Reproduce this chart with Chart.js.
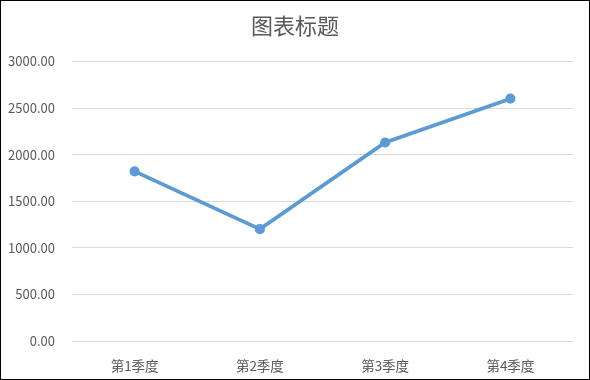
<!DOCTYPE html>
<html>
<head>
<meta charset="utf-8">
<script src="https://cdn.jsdelivr.net/npm/chart.js@4/dist/chart.umd.min.js"></script>
<style>
  body { margin: 0; background: #fff; }
  .wrap { width: 590px; height: 380px; box-sizing: border-box; border: 1px solid #000; background: #fff; }
</style>
</head>
<body>
<div class="wrap"><canvas id="chart" width="588" height="378"></canvas></div>
<script>
const categories = ["第1季度", "第2季度", "第3季度", "第4季度"];
const values = [1820, 1200, 2130, 2600];
const chartTitle = "图表标题";

const font = '"Noto Sans CJK SC", "Noto Sans", sans-serif';

var ctx = document.getElementById("chart").getContext("2d");
var myChart = new Chart(ctx, {
  type: "line",
  data: {
    labels: categories,
    datasets: [
      {
        data: values,
        borderColor: "#5b9bd5",
        backgroundColor: "#5b9bd5",
        borderWidth: 3.8,
        pointRadius: 3.2,
        pointHoverRadius: 3.2,
        tension: 0,
      },
    ],
  },
  options: {
    responsive: false,
    animation: false,
    plugins: {
      legend: { display: false },
      tooltip: { enabled: false },
      title: {
        display: true,
        text: chartTitle,
        color: "#595959",
        font: { family: font, size: 22, weight: "normal" },
        padding: { top: 11, bottom: 23 },
      },
    },
    scales: {
      x: {
        offset: true,
        grid: { display: false },
        border: { display: false },
        ticks: { color: "#595959", font: { family: font, size: 13.5 }, padding: 9 },
        afterFit: function (scale) { scale.height = 38; },
      },
      y: {
        min: 0,
        max: 3000,
        grid: { color: "#d9d9d9", drawTicks: false },
        border: { display: false },
        ticks: {
          stepSize: 500,
          color: "#595959",
          font: { family: font, size: 13 },
          padding: 17,
          callback: function (v) { return v.toFixed(2); },
        },
        afterFit: function (scale) { scale.width = 71; },
      },
      // empty right-hand axis, only keeps a margin so the title stays centred on the canvas
      yRight: {
        position: "right",
        grid: { display: false },
        border: { display: false },
        ticks: { display: false },
        afterFit: function (scale) { scale.width = 16; },
      },
    },
  },
});
</script>
</body>
</html>
